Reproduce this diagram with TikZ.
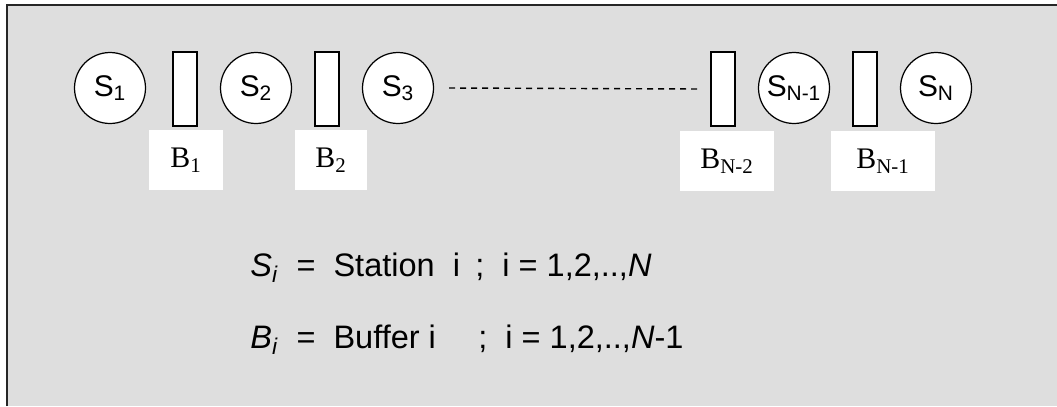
\documentclass[tikz,border=0pt]{standalone}
\usepackage{fontspec}
\setmainfont{Liberation Sans}
\newfontfamily\timesfont{Liberation Serif}
\usetikzlibrary{positioning}
\definecolor{panelgray}{RGB}{222,222,222}

\begin{document}
\begin{tikzpicture}[x=0.02cm,y=-0.02cm,
	station/.style={draw,circle,fill=white,line width=0.7pt,minimum size=1.42cm,inner sep=0pt,font=\fontsize{17}{20}\selectfont},
	buffer/.style={draw,rectangle,fill=white,line width=0.8pt,minimum width=0.48cm,minimum height=1.48cm,inner sep=0pt},
	buflabel/.style={fill=white,minimum height=1.22cm,inner sep=0pt,font=\timesfont\fontsize{17}{20}\selectfont},
	legend/.style={inner sep=0pt,font=\fontsize{18.5}{22}\selectfont}]
	\useasboundingbox (0,0) rectangle (1057,406);
	\fill[panelgray] (7,5) rectangle (1057,406);
	\draw[line width=1.2pt,black!85] (7,406) -- (7,5) -- (1057,5);

	% stations and buffers
	\node[station] (s1) at (110,88) {S\textsubscript{1}};
	\node[buffer] (b1) at (185,89) {};
	\node[station] (s2) at (256,88) {S\textsubscript{2}};
	\node[buffer] (b2) at (327,89) {};
	\node[station] (s3) at (398,88) {S\textsubscript{3}};
	\node[buffer] (bnm2) at (723,89) {};
	\node[station] (snm1) at (794,88) {S\textsubscript{N-1}};
	\node[buffer] (bnm1) at (865,89) {};
	\node[station] (sn) at (936,88) {S\textsubscript{N}};

	\draw[line width=0.8pt,dash pattern=on 0.12cm off 0.1cm] ([xshift=0.3cm]s3.east) -- ([xshift=-0.24cm]bnm2.west);

	% buffer labels
	\node[buflabel,minimum width=1.48cm] (lb1) at (186,160) {B\textsubscript{1}};
	\node[buflabel,minimum width=1.46cm] (lb2) at (331,160) {B\textsubscript{2}};
	\node[buflabel,minimum width=1.88cm] (lbnm2) at (727,161) {B\textsubscript{N-2}};
	\node[buflabel,minimum width=2.08cm] (lbnm1) at (883,161) {B\textsubscript{N-1}};

	% legend
	\node[legend,anchor=base west] (leg1) at (250,276) {\textit{S}\textsubscript{\textit{i}}\ \ =\ \ Station\ \ i};
	\node[legend,anchor=base west] (rng1) at (475,276) {;\ \ i = 1,2,..,\textit{N}};
	\node[legend,anchor=base west] (leg2) at (250,348) {\textit{B}\textsubscript{\textit{i}}\ \ =\ \ Buffer i};
	\node[legend,anchor=base west] (rng2) at (478,348) {;\ \ i = 1,2,..,\textit{N}-1};
\end{tikzpicture}
\end{document}
